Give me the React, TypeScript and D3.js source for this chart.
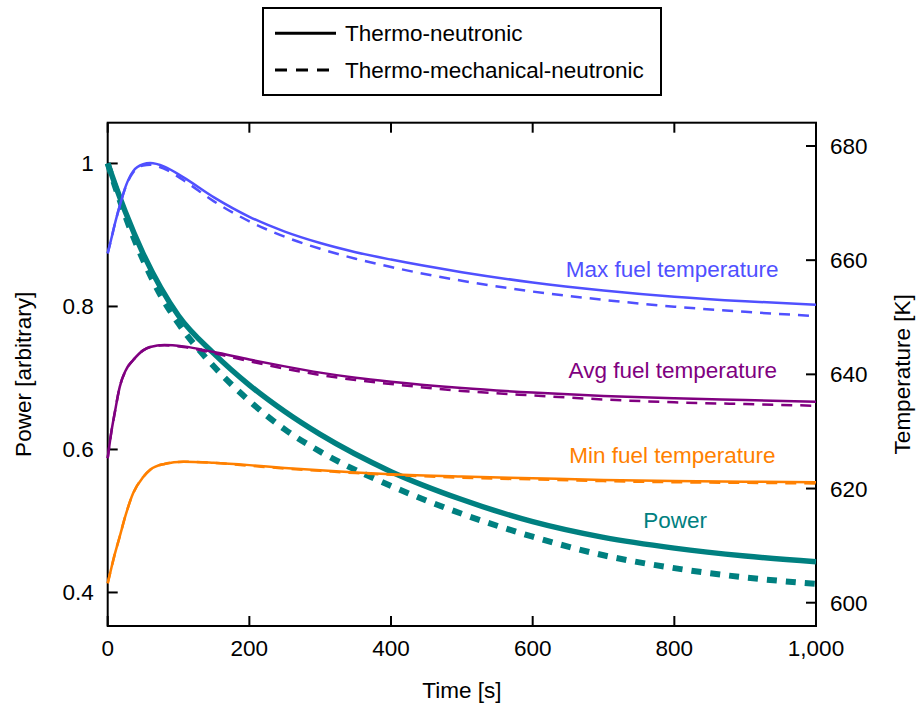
import React from "react";
import * as d3 from "d3";

// ---- data ----
const tPower = [0, 10, 25, 50, 75, 100, 150, 200, 250, 300, 400, 500, 600, 700, 800, 900, 1000];
const powerTN = [1.0, 0.972, 0.932, 0.874, 0.826, 0.787, 0.734, 0.69, 0.653, 0.621, 0.569, 0.53, 0.499, 0.477, 0.462, 0.451, 0.443];
const powerTMN = [1.0, 0.969, 0.926, 0.865, 0.815, 0.776, 0.716, 0.668, 0.628, 0.597, 0.549, 0.51, 0.478, 0.452, 0.434, 0.421, 0.412];

const tTemp = [0, 5, 10, 17, 25, 36, 50, 60, 80, 107, 150, 200, 250, 300, 350, 400, 500, 600, 700, 800, 900, 1000];
const maxTN = [661.2, 663.7, 666.3, 669.5, 672.8, 675.6, 676.8, 677.0, 676.4, 674.5, 671.0, 667.6, 665.0, 663.0, 661.4, 660.1, 657.9, 656.1, 654.7, 653.6, 652.8, 652.2];
const maxTMN = [661.2, 663.7, 666.3, 669.5, 672.7, 675.4, 676.6, 676.7, 676.0, 674.0, 670.3, 666.8, 664.1, 662.0, 660.25, 658.8, 656.4, 654.5, 653.05, 651.85, 650.95, 650.2];
const avgTN = [625.3, 629.8, 633.3, 637.8, 640.6, 642.5, 644.2, 644.8, 645.15, 644.9, 643.9, 642.6, 641.4, 640.3, 639.4, 638.7, 637.6, 636.8, 636.2, 635.8, 635.5, 635.2];
const avgTMN = [625.3, 629.8, 633.3, 637.8, 640.6, 642.5, 644.2, 644.8, 645.1, 644.8, 643.7, 642.3, 641.0, 639.9, 639.0, 638.3, 637.1, 636.3, 635.6, 635.1, 634.8, 634.5];
const minTN = [603.4, 606.0, 608.5, 611.6, 615.2, 619.2, 622.0, 623.3, 624.3, 624.7, 624.5, 624.1, 623.6, 623.2, 622.8, 622.5, 622.1, 621.8, 621.5, 621.3, 621.2, 621.1];
const minTMN = [603.4, 606.0, 608.5, 611.6, 615.2, 619.2, 622.0, 623.3, 624.3, 624.7, 624.5, 624.0, 623.5, 623.1, 622.7, 622.4, 621.9, 621.6, 621.3, 621.1, 621.0, 620.9];

const xTicks = [0, 200, 400, 600, 800, 1000];
const powerTicks = [0.4, 0.6, 0.8, 1];
const tempTicks = [600, 620, 640, 660, 680];

const legendItems = ["Thermo-neutronic", "Thermo-mechanical-neutronic"];

const FONT = "'Liberation Sans', Arial, Helvetica, sans-serif";
const FS = 22.5;

export default function App() {
  const W = 920, H = 711;
  const L = 107.7, R = 816, T = 122.7, B = 626;
  const x = d3.scaleLinear().domain([0, 1000]).range([L, R]);
  const yP = d3.scaleLinear().domain([0.3531, 1.057]).range([B, T]);
  const yT = d3.scaleLinear().domain([595.92, 684.08]).range([B, T]);

  const pLine = (vals: number[]) =>
    d3.line<number>().x((_, i) => x(tPower[i])).y((d) => yP(d)).curve(d3.curveMonotoneX)(vals) || "";
  const tLine = (vals: number[]) =>
    d3.line<number>().x((_, i) => x(tTemp[i])).y((d) => yT(d)).curve(d3.curveMonotoneX)(vals) || "";

  const teal = "#008080", blue = "#5050ff", purple = "#800080", orange = "#ff8000";
  const tickLen = 10;
  const tempSeries = [
    { solid: maxTN, dashed: maxTMN, color: blue, label: "Max fuel temperature", lx: 947, ly: 657.05 },
    { solid: avgTN, dashed: avgTMN, color: purple, label: "Avg fuel temperature", lx: 945, ly: 639.3 },
    { solid: minTN, dashed: minTMN, color: orange, label: "Min fuel temperature", lx: 943, ly: 624.5 },
  ];

  return (
    <svg width={W} height={H} style={{ position: "absolute", left: 0, top: 0 }} fontFamily={FONT}>
      <rect x={0} y={0} width={W} height={H} fill="#fff" />
      {/* frame */}
      <rect x={L} y={T} width={R - L} height={B - T} fill="none" stroke="#000" strokeWidth={2} />
      {/* x ticks */}
      {xTicks.map((v) => (
        <g key={"x" + v}>
          <line x1={x(v)} x2={x(v)} y1={B} y2={B - tickLen} stroke="#000" strokeWidth={2} />
          <line x1={x(v)} x2={x(v)} y1={T} y2={T + tickLen} stroke="#000" strokeWidth={2} />
          <text x={x(v)} y={656} fontSize={FS} textAnchor="middle">{d3.format(",")(v)}</text>
        </g>
      ))}
      {powerTicks.map((v) => (
        <g key={"p" + v}>
          <line x1={L} x2={L + tickLen} y1={yP(v)} y2={yP(v)} stroke="#000" strokeWidth={2} />
          <text x={L - 14} y={yP(v) + 8} fontSize={FS} textAnchor="end">{String(v)}</text>
        </g>
      ))}
      {tempTicks.map((v) => (
        <g key={"t" + v}>
          <line x1={R} x2={R - tickLen} y1={yT(v)} y2={yT(v)} stroke="#000" strokeWidth={2} />
          <text x={R + 14} y={yT(v) + 8} fontSize={FS} textAnchor="start">{String(v)}</text>
        </g>
      ))}
      {/* axis titles */}
      <text x={(L + R) / 2} y={698} fontSize={FS} textAnchor="middle">Time [s]</text>
      <text transform={`translate(31,${(T + B) / 2}) rotate(-90)`} fontSize={FS} textAnchor="middle">Power [arbitrary]</text>
      <text transform={`translate(910,${(T + B) / 2}) rotate(-90)`} fontSize={FS} textAnchor="middle">Temperature [K]</text>

      {/* power */}
      <path d={pLine(powerTN)} fill="none" stroke={teal} strokeWidth={5.5} />
      <path d={pLine(powerTMN)} fill="none" stroke={teal} strokeWidth={6} strokeDasharray="10,9" />
      <text x={x(801)} y={yP(0.4902)} fontSize={FS} fill={teal} textAnchor="middle">Power</text>

      {tempSeries.map((s) => (
        <g key={s.label}>
          <path d={tLine(s.dashed)} fill="none" stroke={s.color} strokeWidth={2.5} strokeDasharray="11,8" />
          <path d={tLine(s.solid)} fill="none" stroke={s.color} strokeWidth={2.5} />
          <text x={x(s.lx)} y={yT(s.ly)} fontSize={FS} fill={s.color} textAnchor="end">{s.label}</text>
        </g>
      ))}

      {/* legend */}
      <rect x={263} y={8} width={398} height={87} fill="#fff" stroke="#000" strokeWidth={2} />
      {legendItems.map((name, i) => (
        <g key={name}>
          <line x1={275} x2={336} y1={33.3 + i * 36.7} y2={33.3 + i * 36.7} stroke="#000" strokeWidth={3}
            strokeDasharray={i === 1 ? "12,9" : undefined} />
          <text x={345} y={33.3 + i * 36.7 + 8} fontSize={FS}>{name}</text>
        </g>
      ))}
    </svg>
  );
}
